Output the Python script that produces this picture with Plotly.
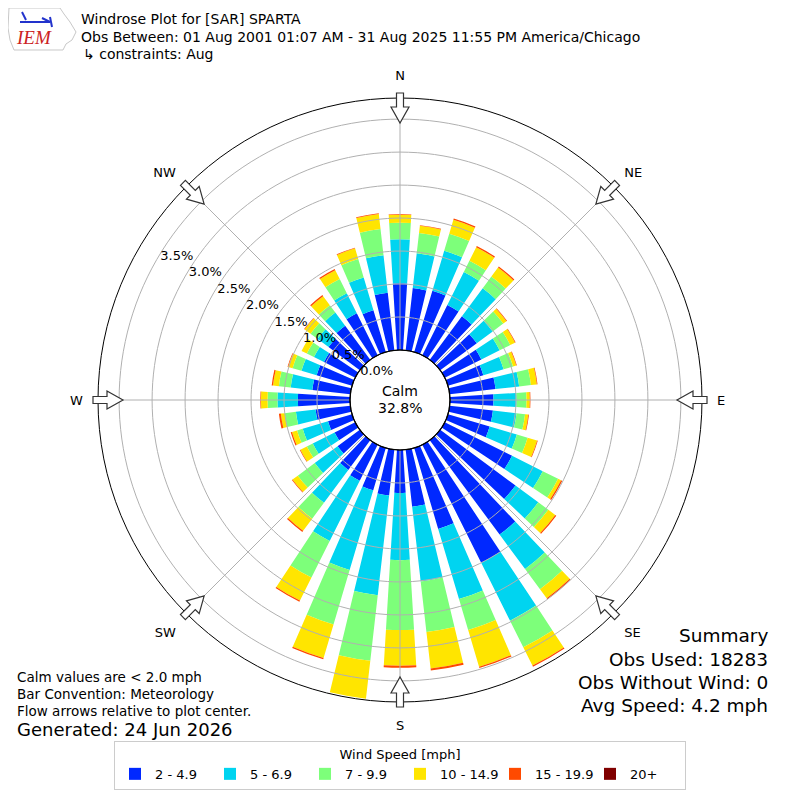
import plotly.graph_objects as go
import math

# ---------------- data (percent of observations) ----------------
directions = [0, 10, 20, 30, 40, 50, 60, 70, 80, 90, 100, 110, 120, 130, 140, 150, 160, 170,
              180, 190, 200, 210, 220, 230, 240, 250, 260, 270, 280, 290, 300, 310, 320, 330, 340, 350]

speed_2_5 = [1.01, 0.95, 0.97, 0.85, 0.82, 0.69, 0.62, 0.56, 0.70, 0.66, 0.66, 0.66, 1.14, 1.42, 1.78, 2.00, 1.28, 0.87,
             0.65, 0.70, 0.67, 0.61, 0.56, 0.42, 0.35, 0.38, 0.53, 0.79, 0.58, 0.56, 0.53, 0.59, 0.64, 0.71, 0.66, 0.88]
speed_5_7 = [0.67, 0.53, 0.63, 0.56, 0.53, 0.30, 0.31, 0.32, 0.36, 0.35, 0.36, 0.43, 0.52, 0.43, 0.65, 0.98, 1.11, 1.14,
             1.02, 1.52, 1.26, 1.02, 0.62, 0.43, 0.37, 0.40, 0.30, 0.31, 0.33, 0.24, 0.17, 0.21, 0.25, 0.34, 0.52, 0.57]
speed_7_10 = [0.25, 0.31, 0.27, 0.19, 0.22, 0.20, 0.18, 0.15, 0.18, 0.15, 0.13, 0.17, 0.26, 0.19, 0.38, 0.45, 0.49, 0.77,
              1.06, 1.00, 0.86, 0.62, 0.30, 0.32, 0.10, 0.09, 0.17, 0.15, 0.18, 0.14, 0.12, 0.13, 0.14, 0.24, 0.29, 0.40]
speed_10_15 = [0.12, 0.11, 0.22, 0.23, 0.17, 0.06, 0.08, 0.05, 0.09, 0.05, 0.05, 0.15, 0.05, 0.13, 0.17, 0.31, 0.58, 0.56,
               0.54, 0.58, 0.53, 0.39, 0.23, 0.10, 0.11, 0.08, 0.06, 0.10, 0.09, 0.07, 0.09, 0.11, 0.17, 0.15, 0.17, 0.23]
speed_15_20 = [0.01, 0.01, 0.02, 0.02, 0.02, 0.01, 0.01, 0.01, 0.01, 0.01, 0.01, 0.01, 0.02, 0.02, 0.02, 0.02, 0.02, 0.03,
               0.03, 0.00, 0.02, 0.02, 0.02, 0.01, 0.01, 0.02, 0.03, 0.01, 0.02, 0.01, 0.00, 0.01, 0.02, 0.02, 0.01, 0.01]
speed_20_up = [0.0] * 36

bins = ["2 - 4.9", "5 - 6.9", "7 - 9.9", "10 - 14.9", "15 - 19.9", "20+"]
series = [speed_2_5, speed_5_7, speed_7_10, speed_10_15, speed_15_20, speed_20_up]
colors = ["#0028ff", "#00d4f0", "#7dff7a", "#ffe500", "#ff4a00", "#800000"]

rings = [0.5, 1.0, 1.5, 2.0, 2.5, 3.0, 3.5]
radial_ticks = [0.0, 0.5, 1.0, 1.5, 2.0, 2.5, 3.0, 3.5]
radial_labels = ["%.1f%%" % v for v in radial_ticks]
compass_angles = [0, 45, 90, 135, 180, 225, 270, 315]
compass_labels = ["N", "NE", "E", "SE", "S", "SW", "W", "NW"]
rmax = 3.82
calm_pct = 32.8

FONT = "DejaVu Sans"

fig = go.Figure()
for name, vals, col in zip(bins, series, colors):
    fig.add_trace(go.Barpolar(r=vals, theta=directions, width=7, name=name,
                              marker=dict(color=col, line=dict(width=0))))

# grid rings and spokes drawn above the bars
ring_theta = list(range(0, 361, 2))
for rv in rings:
    fig.add_trace(go.Scatterpolar(r=[rv] * len(ring_theta), theta=ring_theta, mode="lines",
                                  line=dict(color="#b0b0b0", width=1), showlegend=False,
                                  hoverinfo="skip"))
for a in compass_angles:
    fig.add_trace(go.Scatterpolar(r=[0, rmax], theta=[a, a], mode="lines",
                                  line=dict(color="#b0b0b0", width=1), showlegend=False,
                                  hoverinfo="skip"))

# page has an 8px body margin: the figure occupies window pixels 8..800
OFF = 8
W = H = 800 - OFF
cx, cy = 400, 400          # window pixel coordinates of the rose centre
R_OUT = 302
R_HOLE = 50


def px(x, y):
    return (x - OFF) / W, 1 - (y - OFF) / H


shapes = []
hx0, hy0 = px(cx - R_HOLE, cy + R_HOLE)
hx1, hy1 = px(cx + R_HOLE, cy - R_HOLE)
shapes.append(dict(type="circle", xref="paper", yref="paper", x0=hx0, x1=hx1, y0=hy0, y1=hy1,
                   line=dict(color="black", width=1.2), layer="above"))

# flow arrows pointing to center
for a in compass_angles:
    t = math.radians(a)
    ux, uy = math.sin(t), -math.cos(t)
    vx, vy = -uy, ux
    pts_local = [(307, -3.5), (293, -3.5), (293, -9), (277, 0), (293, 9), (293, 3.5), (307, 3.5)]
    pts = [px(cx + ux * d + vx * w, cy + uy * d + vy * w) for d, w in pts_local]
    path = "M " + " L ".join("%.5f %.5f" % p for p in pts) + " Z"
    shapes.append(dict(type="path", xref="paper", yref="paper", path=path,
                       fillcolor="white", line=dict(color="#333333", width=1.2), layer="above"))

# simple IEM logo
logo = [(9, 8), (60, 8), (64, 14), (70, 22), (76, 32), (72, 40), (66, 44), (63, 50), (14, 50), (10, 40), (8, 28)]
shapes.append(dict(type="path", xref="paper", yref="paper",
                   path="M " + " L ".join("%.5f %.5f" % px(*p) for p in logo) + " Z",
                   line=dict(color="#c8c8c8", width=1), fillcolor="rgba(0,0,0,0)"))
for (x0, y0, x1, y1) in [(20, 22, 50, 22), (50, 17, 52, 27), (22, 12, 26, 20), (42, 18, 50, 22)]:
    a0 = px(x0, y0)
    a1 = px(x1, y1)
    shapes.append(dict(type="line", xref="paper", yref="paper", x0=a0[0], y0=a0[1], x1=a1[0], y1=a1[1],
                       line=dict(color="#2233cc", width=2)))

annotations = []


def txt(x, y, s, size=14, xanchor="left", color="black", family=FONT):
    X, Y = px(x, y)
    annotations.append(dict(x=X, y=Y, xref="paper", yref="paper", text=s,
                            showarrow=False, xanchor=xanchor, yanchor="middle",
                            font=dict(size=size, color=color, family=family)))


txt(79, 19, "Windrose Plot for [SAR] SPARTA", 14)
txt(79, 37, "Obs Between: 01 Aug 2001 01:07 AM - 31 Aug 2025 11:55 PM America/Chicago", 14)
txt(81, 54, "↳ constraints: Aug", 14)
txt(14, 38, "<i>IEM</i>", 19, color="#cc2222", family="Liberation Serif")

txt(400, 391, "Calm", 14, "center")
txt(400, 408, "%.1f%%" % calm_pct, 14, "center")

txt(15, 677, "Calm values are < 2.0 mph", 13.5)
txt(15, 694, "Bar Convention: Meteorology", 13.5)
txt(15, 711, "Flow arrows relative to plot center.", 13.5)
txt(15, 729, "Generated: 24 Jun 2026", 18)

txt(770, 635, "Summary", 18.5, "right")
txt(770, 659, "Obs Used: 18283", 18.5, "right")
txt(770, 682, "Obs Without Wind: 0", 18.5, "right")
txt(770, 705, "Avg Speed: 4.2 mph", 18.5, "right")

dx0, dy0 = px(cx - R_OUT, cy + R_OUT)
dx1, dy1 = px(cx + R_OUT, cy - R_OUT)
lx, ly = px(400, 741)

fig.update_layout(
    width=W, height=H,
    margin=dict(l=0, r=0, t=0, b=0),
    paper_bgcolor="white",
    font=dict(family=FONT, size=13, color="black"),
    polar=dict(
        domain=dict(x=[dx0, dx1], y=[dy0, dy1]),
        hole=R_HOLE / R_OUT,
        bgcolor="white",
        barmode="stack",
        radialaxis=dict(range=[0, rmax], tickvals=radial_ticks, ticktext=radial_labels,
                        angle=150, tickangle=150, showline=False, showgrid=False, ticks="",
                        tickfont=dict(size=13, family=FONT, color="black")),
        angularaxis=dict(rotation=90, direction="clockwise", tickvals=compass_angles,
                         ticktext=compass_labels, showgrid=False, showline=True,
                         linecolor="black", linewidth=1, ticks="outside", ticklen=12,
                         tickcolor="rgba(0,0,0,0)",
                         tickfont=dict(size=13, family=FONT, color="black")),
    ),
    legend=dict(orientation="h", x=lx, xanchor="center", y=ly, yanchor="top",
                bordercolor="#cccccc", borderwidth=1, bgcolor="white",
                entrywidth=50,
                title=dict(text="Wind Speed [mph]", side="top center", font=dict(size=13)),
                font=dict(size=13, family=FONT), itemclick=False),
    shapes=shapes,
    annotations=annotations,
)

fig.write_html("out.html")
